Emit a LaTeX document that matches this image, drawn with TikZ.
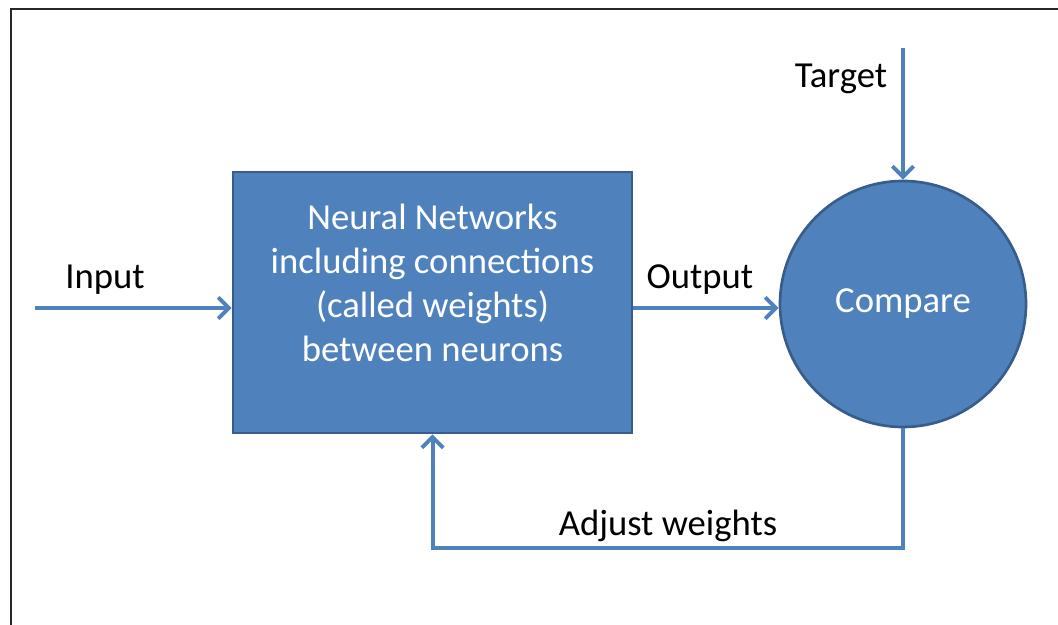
\documentclass[tikz,border=0pt]{standalone}
\usepackage{fontspec}
\setmainfont{Carlito}
\usepackage{xcolor}
\usetikzlibrary{arrows.meta, positioning}

\definecolor{nnblue}{HTML}{4F81BD}
\definecolor{nnedge}{HTML}{385D8A}

\begin{document}
\begin{tikzpicture}[
    x=0.75pt, y=-0.75pt,
    font=\fontsize{27.5}{33}\selectfont,
    block/.style={rectangle, draw=nnedge, line width=2pt, fill=nnblue, minimum width=399*0.75pt, minimum height=261*0.75pt},
    blocktext/.style={text=white, align=center},
    disc/.style={circle, draw=nnedge, line width=2pt, fill=nnblue, text=white, minimum size=246*0.75pt},
    arrow/.style={-{Straight Barb[length=8pt, width=16pt, line width=3pt]}, line width=3pt, nnblue},
    lbl/.style={text=black}
]
\useasboundingbox (0,0) rectangle (1058,625);
% frame
\draw[line width=2.2pt, black!85] (11,625) -- (11,9) -- (1058,9);

% Nodes
\node[block] (net) at (432.5,302.5) {};
\node[blocktext] (nettext) at ([yshift=15pt]net.center) {Neural Networks\\including connections\\(called weights)\\between neurons};
\node[disc] (cmp) at (903,304) {Compare};

% Free ends
\coordinate (inp) at (35,308);
\coordinate (tgt) at (903,48);
\coordinate (fb) at (0,548);

% Arrows
\draw[arrow] (inp) -- (inp -| net.west);
\draw[arrow] (net.east |- inp) -- (cmp.west |- inp);
\draw[arrow] (tgt) -- (cmp.north);
\draw[arrow] (cmp.south) -- (cmp.south |- fb) -| (net.south);

% Labels
\node[lbl] at (105,280) {Input};
\node[lbl] at (700,280) {Output};
\node[lbl] at (841,79) {Target};
\node[lbl] at (668,526) {Adjust weights};

\end{tikzpicture}
\end{document}
